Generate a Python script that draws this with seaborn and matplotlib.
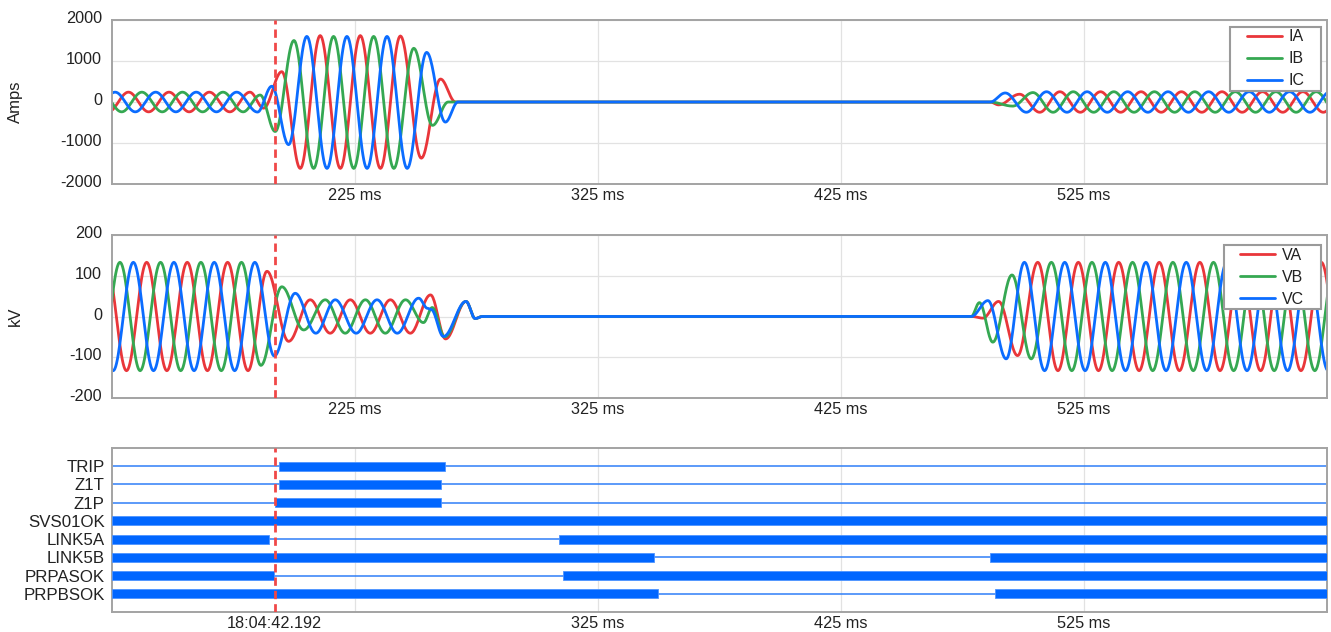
import numpy as np
import pandas as pd
import matplotlib
matplotlib.use("Agg")
import matplotlib.pyplot as plt
import matplotlib.transforms as mtransforms
from matplotlib.lines import Line2D
from matplotlib.path import Path
import seaborn as sns

# ---------------- data ----------------
X_MIN, X_MAX = 125, 625
TRIGGER_MS = 192
TRIGGER_LABEL = "18:04:42.192"
X_TICKS = [225, 325, 425, 525]
X_TICK_LABELS = ["225 ms", "325 ms", "425 ms", "525 ms"]
CURRENT_TICKS = [-2000, -1000, 0, 1000, 2000]
VOLTAGE_TICKS = [-200, -100, 0, 100, 200]

CURRENT_NAMES = ["IA", "IB", "IC"]
VOLTAGE_NAMES = ["VA", "VB", "VC"]

# extrema (ms, Amps) of the current traces
IA_T = [123.6, 131.9, 140.2, 148.6, 156.9, 165.2, 173.6, 181.9,
        187.5, 195.0, 202.6, 210.8, 219.1, 227.3, 235.6, 243.8, 252.4, 260.3, 266.5,
        486.5, 490.0, 498.6, 506.9, 515.2, 523.6, 531.9, 540.2, 548.6, 556.9,
        565.2, 573.6, 581.9, 590.2, 598.6, 606.9, 615.2, 623.6, 631.9]
IA_V = [-240, 240, -240, 240, -240, 240, -240, 240,
        -150, 740, -1620, 1620, -1620, 1620, -1620, 1610, -1370, 560, 0,
        0, -70, 190, -250, 250, -250, 250, -250, 250, -250,
        250, -250, 250, -250, 250, -250, 250, -250, 250]

IB_T = [120.7, 129.1, 137.4, 145.8, 154.1, 162.4, 170.8, 179.1,
        186.1, 192.3, 200.0, 208.1, 216.3, 224.6, 232.8, 241.1, 249.3, 257.0, 263.5,
        486.5, 495.8, 504.1, 512.4, 520.7, 529.1, 537.4, 545.7, 554.1, 562.4,
        570.7, 579.1, 587.4, 595.7, 604.1, 612.4, 620.7, 629.1]
IB_V = [240, -240, 240, -240, 240, -240, 240, -240,
        170, -720, 1500, -1620, 1600, -1620, 1600, -1620, 1310, -570, 0,
        0, -100, 230, -250, 250, -250, 250, -250, 250, -250,
        250, -250, 250, -250, 250, -250, 250, -250]

IC_T = [118.1, 126.4, 134.7, 143.1, 151.4, 159.8, 168.1, 176.4,
        185.0, 190.9, 197.8, 205.3, 213.6, 221.8, 230.1, 238.3, 246.6, 254.6, 262.3, 267.5,
        486.5, 492.7, 501.4, 509.7, 518.1, 526.4, 534.7, 543.1, 551.4, 559.7,
        568.1, 576.4, 584.7, 593.1, 601.4, 609.7, 618.1, 626.4]
IC_V = [-240, 240, -240, 240, -240, 240, -240, 240,
        -245, 385, -1040, 1600, -1620, 1600, -1620, 1600, -1620, 1210, -490, 0,
        0, 220, -250, 250, -250, 250, -250, 250, -250, 250,
        -250, 250, -250, 250, -250, 250, -250, 250]

# extrema (ms, kV) of the voltage traces
VA_T = [122.7, 131.1, 139.4, 147.7, 156.1, 164.4, 172.7, 181.1,
        188.9, 197.8, 206.7, 214.9, 223.2, 231.4, 239.7, 247.9, 256.2, 262.4, 270.8, 274.6, 277.5,
        479.0, 483.5, 490.0, 497.8, 506.1, 514.4, 522.8, 531.1, 539.4, 547.8,
        556.1, 564.4, 572.8, 581.1, 589.4, 597.8, 606.1, 614.4, 622.8, 631.1]
VA_V = [133, -133, 133, -133, 133, -133, 133, -133,
        111, -61, 41, -41, 41, -41, 41, -41, 53, -55, 37, -5, 0,
        0, -4, 37, -96, 133, -133, 133, -133, 133, -133,
        133, -133, 133, -133, 133, -133, 133, -133, 133, -133]

VB_T = [120.1, 128.4, 136.7, 145.1, 153.4, 161.7, 170.1, 178.4,
        186.4, 195.0, 204.0, 212.9, 221.1, 229.4, 237.6, 245.9, 253.3, 256.9, 262.0, 270.8, 274.6, 277.5,
        478.7, 482.1, 487.6, 495.5, 503.4, 511.7, 520.1, 528.4, 536.7, 545.1,
        553.4, 561.7, 570.1, 578.4, 586.7, 595.1, 603.4, 611.7, 620.1, 628.4]
VB_V = [-133, 133, -133, 133, -133, 133, -133, 133,
        -120, 73, -33, 41, -41, 41, -41, 41, -15, 22, -50, 37, -5, 0,
        0, 34, -63, 102, -104, 133, -133, 133, -133, 133,
        -133, 133, -133, 133, -133, 133, -133, 133, -133, 133]

VC_T = [117.2, 125.6, 133.9, 142.2, 150.6, 158.9, 167.2, 175.6, 183.9,
        191.9, 200.5, 209.0, 217.0, 225.6, 234.2, 242.5, 251.3, 255.0, 256.5, 261.5, 270.8, 274.6, 277.5,
        478.7, 485.6, 493.1, 500.6, 508.9, 517.2, 525.6, 533.9, 542.2, 550.6,
        558.9, 567.2, 575.6, 583.9, 592.2, 600.6, 608.9, 617.2, 625.6]
VC_V = [133, -133, 133, -133, 133, -133, 133, -133, 133,
        -97, 57, -41, 41, -41, 41, -41, 45, 20, 17, -49, 37, -5, 0,
        0, 39, -104, 133, -133, 133, -133, 133, -133, 133,
        -133, 133, -133, 133, -133, 133, -133, 133, -133]

# digital channels: "on" intervals (ms)
DIG_NAMES = ["TRIP", "Z1T", "Z1P", "SVS01OK", "LINK5A", "LINK5B", "PRPASOK", "PRPBSOK"]
ON_SIGNAL = ["TRIP", "Z1T", "Z1P", "SVS01OK", "LINK5A", "LINK5A",
             "LINK5B", "LINK5B", "PRPASOK", "PRPASOK", "PRPBSOK", "PRPBSOK"]
ON_START = [194.0, 194.0, 192.0, 125.0, 125.0, 308.9, 125.0, 486.4, 125.0, 310.7, 125.0, 488.3]
ON_END = [262.2, 260.4, 260.4, 625.0, 189.8, 625.0, 348.1, 625.0, 191.6, 625.0, 350.0, 625.0]

# ---------------- style ----------------
PHASE_COLORS = ["#e9363a", "#35a852", "#0b6cff"]
DIG_COLOR = "#0066ff"
DIG_EDGE = "#4d94ff"
FRAME = "#a3a3a3"
GRID = "#e2e2e2"
TXT = "#222222"

sns.set_style("white")
plt.rcParams["font.family"] = ["Liberation Sans", "DejaVu Sans"]
plt.rcParams["axes.unicode_minus"] = False


def smooth(t, v, n=24):
    """Smooth trace through the read extrema (half-cosine between knots)."""
    t = np.asarray(t, float)
    v = np.asarray(v, float)
    xs, ys = [], []
    s = np.linspace(0.0, 1.0, n, endpoint=False)
    for i in range(len(t) - 1):
        xs.append(t[i] + (t[i + 1] - t[i]) * s)
        ys.append(v[i] + (v[i + 1] - v[i]) * (1 - np.cos(np.pi * s)) / 2)
    xs.append([t[-1]])
    ys.append([v[-1]])
    return np.concatenate(xs), np.concatenate(ys)


def wave_frame(names, knots):
    frames = []
    for name, (t, v) in zip(names, knots):
        x, y = smooth(t, v)
        frames.append(pd.DataFrame({"t": x, "value": y, "channel": name}))
    return pd.concat(frames, ignore_index=True)


class WideBox:
    def __init__(self, hpad):
        self.hpad = hpad

    def __call__(self, x0, y0, width, height, mutation_size):
        hp = self.hpad * mutation_size
        xa, xb = x0 - hp, x0 + width + hp
        ya, yb = y0, y0 + height
        return Path([(xa, ya), (xb, ya), (xb, yb), (xa, yb), (xa, ya)], closed=True)


W, H = 1331, 632
fig = plt.figure(figsize=(W / 100, H / 100), dpi=100)
L, R = 111.7, 1326.7
AXW = R - L


def add_ax(top, bottom):
    return fig.add_axes([L / W, 1 - bottom / H, AXW / W, (bottom - top) / H])


ax1 = add_ax(20, 184)
ax2 = add_ax(235, 398)
ax3 = add_ax(448, 612)

yoff = mtransforms.ScaledTranslation(0, 2 / 72, fig.dpi_scale_trans)


def style_axes(ax):
    ax.set_xlim(X_MIN, X_MAX)
    for sp in ax.spines.values():
        sp.set_color(FRAME)
        sp.set_linewidth(1.4)
        sp.set_visible(True)
    ax.set_axisbelow(True)
    ax.tick_params(which="both", length=0, labelsize=11.7, colors=TXT)
    ax.tick_params(axis="x", which="both", pad=3)
    ax.tick_params(axis="y", which="both", pad=7)


def analog_panel(ax, names, knots, ticks, ylabel, legend_top_px, ax_h):
    df = wave_frame(names, knots)
    sns.lineplot(data=df, x="t", y="value", hue="channel", hue_order=names,
                 palette=dict(zip(names, PHASE_COLORS)), estimator=None,
                 sort=False, linewidth=2.0, legend=False, ax=ax)
    style_axes(ax)
    ax.set_ylim(ticks[0], ticks[-1])
    ax.set_yticks(ticks, [str(v) for v in ticks])
    ax.set_xticks(X_TICKS, X_TICK_LABELS)
    ax.grid(True, color=GRID, linewidth=0.9)
    ax.set_xlabel("")
    ax.set_ylabel(ylabel, fontsize=12, color=TXT)
    ax.yaxis.set_label_coords(-(L - 23) / AXW, 0.5)
    for lab in ax.get_yticklabels():
        lab.set_transform(lab.get_transform() + yoff)
    ax.axvline(TRIGGER_MS, color="#f04848", linewidth=2.0,
               linestyle=(0, (3.0, 1.8)), zorder=5)
    handles = [Line2D([], [], color=c, linewidth=2.0) for c in PHASE_COLORS]
    fs = 11.5
    hpad = 0.88
    hp_px = hpad * fs * 100 / 72
    leg = ax.legend(handles, names, loc="upper right",
                    bbox_to_anchor=(1 - (6 + hp_px) / AXW, 1 - legend_top_px / ax_h),
                    borderaxespad=0, fontsize=fs, frameon=True, fancybox=False,
                    framealpha=1, edgecolor="#9a9a9a", handlelength=2.19,
                    handletextpad=0.41, labelspacing=0.44, borderpad=0.16)
    leg.get_frame().set_linewidth(1.5)
    leg.get_frame().set_boxstyle(WideBox(hpad))
    for t in leg.get_texts():
        t.set_color(TXT)


analog_panel(ax1, CURRENT_NAMES, [(IA_T, IA_V), (IB_T, IB_V), (IC_T, IC_V)],
             CURRENT_TICKS, "Amps", 6.7, 164)
analog_panel(ax2, VOLTAGE_NAMES, [(VA_T, VA_V), (VB_T, VB_V), (VC_T, VC_V)],
             VOLTAGE_TICKS, "kV", 10.0, 163)

# ---------------- digital panel ----------------
rows = {name: i + 1 for i, name in enumerate(DIG_NAMES)}
style_axes(ax3)
ax3.set_ylim(len(DIG_NAMES) + 1, 0)
ax3.hlines([rows[n] for n in DIG_NAMES], X_MIN, X_MAX, color="#2f7ff8",
           linewidth=1.1, zorder=2)
ax3.barh([rows[s] for s in ON_SIGNAL],
         [e - s for s, e in zip(ON_START, ON_END)], left=ON_START,
         height=0.5, color=DIG_COLOR, edgecolor=DIG_EDGE, linewidth=0.6, zorder=3)
ax3.set_yticks([rows[n] for n in DIG_NAMES], DIG_NAMES)
ax3.tick_params(axis="y", labelsize=12.2, pad=5)
ax3.set_xticks(X_TICKS, [""] + X_TICK_LABELS[1:])
ax3.set_xticks([TRIGGER_MS], [TRIGGER_LABEL], minor=True)
ax3.grid(True, axis="x", which="major", color=GRID, linewidth=0.9)
ax3.grid(False, axis="y")
ax3.axvline(TRIGGER_MS, color="#f04848", linewidth=2.0,
            linestyle=(0, (3.0, 1.8)), zorder=5)

fig.savefig("out.png", dpi=100, facecolor="white")
